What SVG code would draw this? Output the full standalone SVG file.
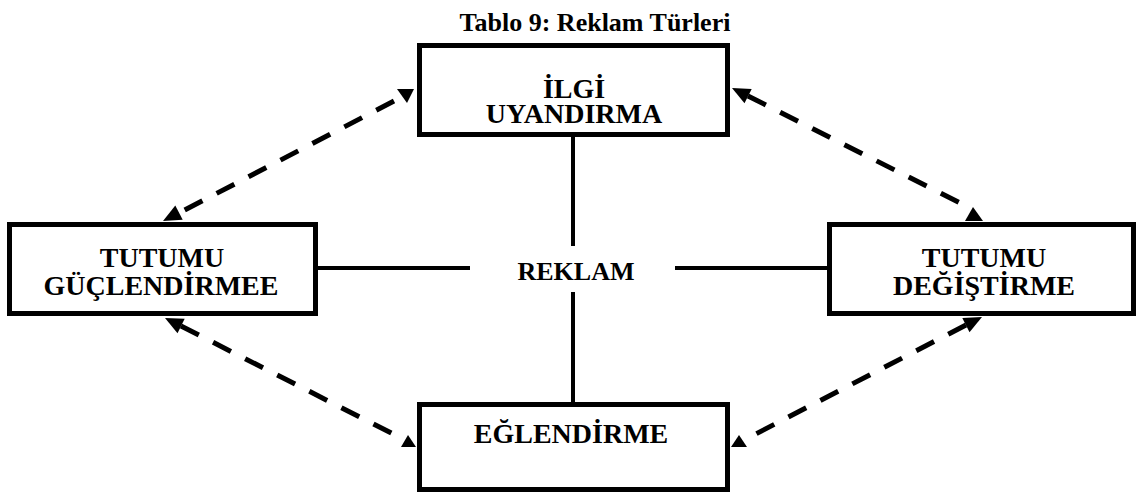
<svg xmlns="http://www.w3.org/2000/svg" width="1138" height="494" viewBox="0 0 1138 494">
  <style>
    .box { fill: #ffffff; stroke: #000000; stroke-width: 5; }
    .lbl { font-family: "Liberation Serif", "Times New Roman", serif; font-weight: bold; font-size: 28px; fill: #000000; text-anchor: middle; }
    .title { font-family: "Liberation Serif", "Times New Roman", serif; font-weight: bold; font-size: 26px; fill: #000000; text-anchor: middle; }
    .solid { stroke: #000000; stroke-width: 4; fill: none; }
    .dash { stroke: #000000; stroke-width: 5; fill: none; stroke-dasharray: 20 16; }
    .head { fill: #000000; stroke: none; }
  </style>
  <rect width="1138" height="494" fill="#ffffff"/>

  <text class="title" x="595" y="31">Tablo 9: Reklam Türleri</text>

  <!-- connectors -->
  <g id="connectors">
    <!-- hub lines around the centre label -->
    <line class="solid" x1="573" y1="137" x2="573" y2="246"/>
    <line class="solid" x1="573" y1="292" x2="573" y2="402"/>
    <line class="solid" x1="318" y1="268" x2="470" y2="268"/>
    <line class="solid" x1="675" y1="268" x2="827" y2="268"/>

    <!-- dashed two-way links between the outer boxes -->
    <line class="dash" x1="394" y1="101" x2="179" y2="213"/>
    <polygon class="head" points="397,89 414,89 407,103"/>
    <polygon class="head" points="163,221 182.7,219.8 175.3,205.6"/>

    <line class="dash" x1="748" y1="96" x2="968" y2="207"/>
    <polygon class="head" points="732,88 751.7,89 744.5,103.2"/>
    <polygon class="head" points="965,221 983,221 973,207"/>

    <line class="dash" x1="181" y1="326" x2="401" y2="438"/>
    <polygon class="head" points="165,318 184.7,318.8 177.5,333.2"/>
    <polygon class="head" points="401,447 416,447 408,435"/>

    <line class="dash" x1="966" y1="325" x2="748" y2="438"/>
    <polygon class="head" points="982,317 969.5,332.2 962.3,318"/>
    <polygon class="head" points="731,447 747,447 739,435"/>
  </g>

  <g id="node-reklam">
    <text class="title" x="576" y="280">REKLAM</text>
  </g>

  <g id="node-ilgi">
    <rect class="box" x="419.5" y="45.5" width="308" height="89"/>
    <text class="lbl" x="574" y="98">İLGİ</text>
    <text class="lbl" x="574" y="123">UYANDIRMA</text>
  </g>

  <g id="node-guclendirme">
    <rect class="box" x="9.5" y="224.5" width="306" height="89"/>
    <text class="lbl" x="162" y="267">TUTUMU</text>
    <text class="lbl" x="161" y="295">GÜÇLENDİRMEE</text>
  </g>

  <g id="node-degistirme">
    <rect class="box" x="829.5" y="224.5" width="304" height="89"/>
    <text class="lbl" x="984" y="267">TUTUMU</text>
    <text class="lbl" x="984" y="295">DEĞİŞTİRME</text>
  </g>

  <g id="node-eglendirme">
    <rect class="box" x="419.5" y="404.5" width="308" height="85"/>
    <text class="lbl" x="571" y="443">EĞLENDİRME</text>
  </g>
</svg>
